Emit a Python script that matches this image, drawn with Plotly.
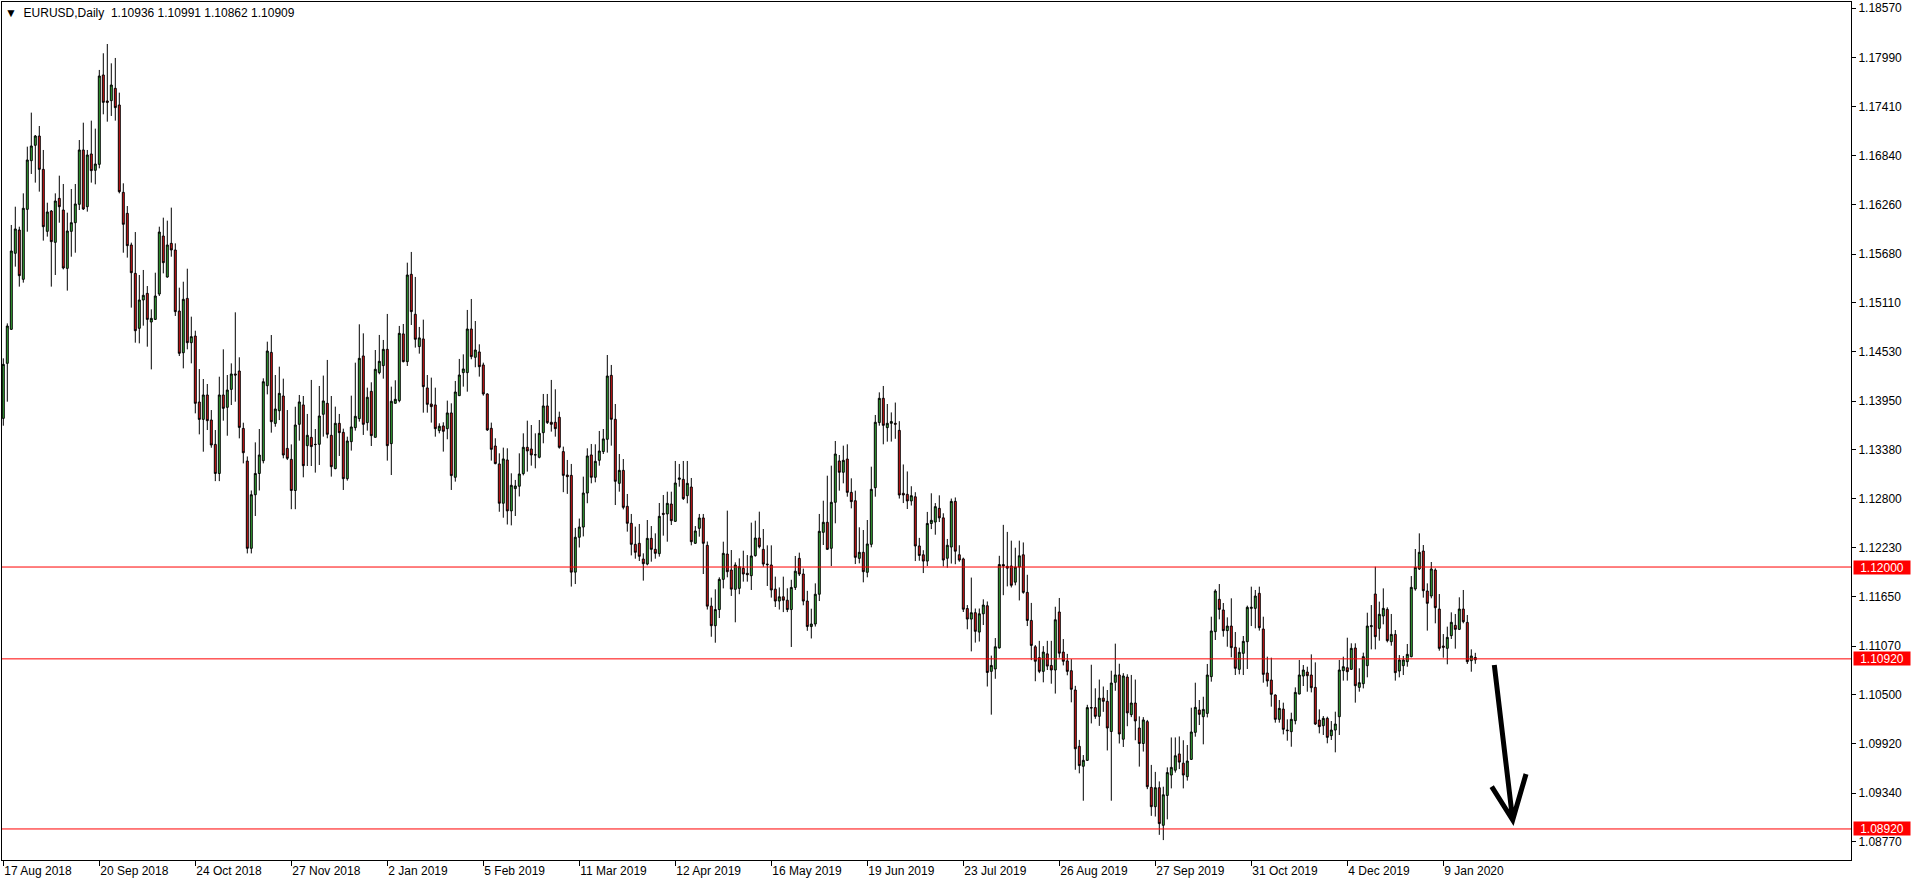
import plotly.graph_objects as go

# ---------------- data ----------------
date_labels = ["17 Aug 2018", "20 Sep 2018", "24 Oct 2018", "27 Nov 2018", "2 Jan 2019",
               "5 Feb 2019", "11 Mar 2019", "12 Apr 2019", "16 May 2019", "19 Jun 2019",
               "23 Jul 2019", "26 Aug 2019", "27 Sep 2019", "31 Oct 2019", "4 Dec 2019",
               "9 Jan 2020"]
bars_per_label = 24

price_ticks = [1.18570, 1.17990, 1.17410, 1.16840, 1.16260, 1.15680, 1.15110, 1.14530,
               1.13950, 1.13380, 1.12800, 1.12230, 1.11650, 1.11070, 1.10500, 1.09920,
               1.09340, 1.08770]

levels = [1.12000, 1.10920, 1.08920]

opens = [
    1.13748, 1.14395, 1.14795, 1.15689, 1.15963, 1.15383, 1.16206, 1.16778, 1.16959, 1.17068,
    1.16676, 1.15947, 1.16186, 1.15818, 1.16335, 1.16198, 1.15512, 1.15947, 1.16049, 1.16265,
    1.16904, 1.16237, 1.16857, 1.16665, 1.16735, 1.17786, 1.17480, 1.17484, 1.17629, 1.17433,
    1.16406, 1.16159, 1.15787, 1.15453, 1.14807, 1.15140, 1.15218, 1.14881, 1.14912, 1.15210,
    1.15892, 1.15410, 1.15806, 1.15728, 1.15010, 1.14520, 1.15159, 1.14638, 1.14716, 1.13940,
    1.13736, 1.14023, 1.13729, 1.13442, 1.13100, 1.14023, 1.13878, 1.14089, 1.14270, 1.14305,
    1.13630, 1.13246, 1.12220, 1.12850, 1.13100, 1.13250, 1.14132, 1.14524, 1.13689, 1.13838,
    1.14011, 1.13395, 1.13266, 1.12900, 1.13678, 1.13906, 1.13427, 1.13525, 1.13443, 1.13443,
    1.13796, 1.13925, 1.13549, 1.13157, 1.13690, 1.13584, 1.13039, 1.13474, 1.13639, 1.13745,
    1.14482, 1.13698, 1.14066, 1.13525, 1.14286, 1.14368, 1.14560, 1.13451, 1.13925, 1.13957,
    1.14741, 1.14415, 1.15442, 1.14972, 1.14592, 1.14682, 1.14106, 1.13917, 1.13906, 1.13604,
    1.13659, 1.13627, 1.13812, 1.13055, 1.14015, 1.14286, 1.14286, 1.14799, 1.14466, 1.14529,
    1.14376, 1.14035, 1.13631, 1.13423, 1.13212, 1.12750, 1.13259, 1.12660, 1.12922, 1.12950,
    1.13098, 1.13408, 1.13388, 1.13318, 1.13290, 1.13580, 1.13894, 1.13702, 1.13702, 1.13761,
    1.13357, 1.13082, 1.13078, 1.11940, 1.12350, 1.12470, 1.12870, 1.13318, 1.13055, 1.13255,
    1.13357, 1.13502, 1.14254, 1.13737, 1.12984, 1.13137, 1.12714, 1.12514, 1.12267, 1.12279,
    1.12094, 1.12035, 1.12337, 1.12208, 1.12157, 1.12631, 1.12624, 1.12741, 1.12537, 1.13031,
    1.13031, 1.12839, 1.12941, 1.12279, 1.12455, 1.12577, 1.12255, 1.11540, 1.11310, 1.11500,
    1.11855, 1.12153, 1.11965, 1.11738, 1.11749, 1.11985, 1.11926, 1.11898, 1.12134, 1.12341,
    1.12208, 1.12035, 1.12024, 1.11740, 1.11600, 1.11650, 1.11610, 1.11500, 1.11760, 1.12102,
    1.11918, 1.11600, 1.11300, 1.11330, 1.11680, 1.12408, 1.12526, 1.12220, 1.12761, 1.13247,
    1.13114, 1.13270, 1.12878, 1.12780, 1.12102, 1.12173, 1.11938, 1.12267, 1.12933, 1.13698,
    1.13984, 1.13639, 1.13690, 1.13690, 1.13607, 1.12867, 1.12855, 1.12777, 1.12826, 1.12248,
    1.12144, 1.12070, 1.12512, 1.12529, 1.12690, 1.12578, 1.12103, 1.12235, 1.12772, 1.12144,
    1.12095, 1.11512, 1.11388, 1.11463, 1.11235, 1.11450, 1.11545, 1.10773, 1.10801, 1.11049,
    1.12029, 1.12008, 1.12012, 1.11822, 1.12000, 1.12144, 1.11702, 1.11372, 1.11062, 1.10934,
    1.10773, 1.10979, 1.10843, 1.10789, 1.11471, 1.11000, 1.10896, 1.10781, 1.10554, 1.09892,
    1.09657, 1.09727, 1.10347, 1.10347, 1.10244, 1.10458, 1.10421, 1.10066, 1.10644, 1.10731,
    1.09975, 1.10706, 1.10264, 1.10401, 1.10107, 1.09925, 1.10182, 1.09409, 1.09182, 1.09405,
    1.08963, 1.09314, 1.09554, 1.09611, 1.09802, 1.09694, 1.09535, 1.09738, 1.10056, 1.10319,
    1.10240, 1.10279, 1.10711, 1.11240, 1.11620, 1.11495, 1.11252, 1.11306, 1.11056, 1.10797,
    1.10985, 1.11122, 1.11514, 1.11514, 1.11691, 1.11271, 1.10754, 1.10671, 1.10495, 1.10209,
    1.10330, 1.10083, 1.10064, 1.10193, 1.10507, 1.10718, 1.10765, 1.10730, 1.10585, 1.10201,
    1.10134, 1.10221, 1.10017, 1.10083, 1.10240, 1.10781, 1.10816, 1.10797, 1.11048, 1.10585,
    1.10628, 1.10840, 1.11299, 1.11683, 1.11279, 1.11424, 1.11502, 1.11122, 1.11208, 1.10777,
    1.10840, 1.10887, 1.10946, 1.11742, 1.11977, 1.12188, 1.11718, 1.11659, 1.11965, 1.11506,
    1.11071, 1.11044, 1.11193, 1.11314, 1.11267, 1.11506, 1.11349, 1.10899, 1.10936,
]

highs = [
    1.14454, 1.14865, 1.16022, 1.16237, 1.16002, 1.16394, 1.16943, 1.17343, 1.17080, 1.17186,
    1.16904, 1.16284, 1.16198, 1.16394, 1.16602, 1.16504, 1.16167, 1.16445, 1.16504, 1.17021,
    1.17225, 1.16904, 1.17249, 1.17155, 1.17845, 1.18041, 1.18150, 1.17923, 1.17986, 1.17578,
    1.16512, 1.16245, 1.15814, 1.15939, 1.15434, 1.15493, 1.15304, 1.15030, 1.15461, 1.16002,
    1.16108, 1.16073, 1.16226, 1.15806, 1.15285, 1.15355, 1.15508, 1.14944, 1.14779, 1.14328,
    1.14211, 1.14152, 1.13846, 1.13611, 1.14238, 1.14560, 1.14258, 1.14395, 1.14995, 1.14466,
    1.13697, 1.13300, 1.12900, 1.13466, 1.13623, 1.14219, 1.14650, 1.14728, 1.14258, 1.14356,
    1.14215, 1.13846, 1.13442, 1.13885, 1.14023, 1.14011, 1.13800, 1.14200, 1.13623, 1.14129,
    1.14251, 1.14435, 1.14011, 1.13886, 1.13800, 1.13627, 1.13533, 1.14015, 1.14403, 1.14854,
    1.14748, 1.14109, 1.14172, 1.14552, 1.14729, 1.14670, 1.14976, 1.14121, 1.14196, 1.14835,
    1.14858, 1.15579, 1.15705, 1.15411, 1.14823, 1.14909, 1.14258, 1.14227, 1.14109, 1.13690,
    1.13702, 1.13957, 1.13925, 1.14188, 1.14447, 1.14501, 1.15023, 1.15152, 1.14893, 1.14619,
    1.14403, 1.14043, 1.13698, 1.13514, 1.13337, 1.13404, 1.13396, 1.13102, 1.13024, 1.13337,
    1.13572, 1.13721, 1.13670, 1.13572, 1.13729, 1.14035, 1.14035, 1.14200, 1.14090, 1.13827,
    1.13416, 1.13259, 1.13212, 1.12460, 1.12570, 1.13063, 1.13396, 1.13447, 1.13443, 1.13600,
    1.13623, 1.14493, 1.14376, 1.13917, 1.13329, 1.13270, 1.12859, 1.12624, 1.12475, 1.12506,
    1.12161, 1.12553, 1.12482, 1.12396, 1.12753, 1.12847, 1.12886, 1.12886, 1.13247, 1.13212,
    1.13247, 1.13247, 1.13047, 1.12482, 1.12624, 1.12624, 1.12300, 1.11640, 1.11738, 1.11879,
    1.12298, 1.12663, 1.12200, 1.12055, 1.12102, 1.12192, 1.12141, 1.12522, 1.12545, 1.12651,
    1.12447, 1.12255, 1.12255, 1.11887, 1.11760, 1.11887, 1.11750, 1.11850, 1.12130, 1.12169,
    1.11981, 1.11720, 1.11510, 1.11808, 1.12624, 1.12780, 1.13074, 1.13192, 1.13482, 1.13317,
    1.13427, 1.13443, 1.13043, 1.12898, 1.12467, 1.12435, 1.12553, 1.13180, 1.13788, 1.14054,
    1.14129, 1.13917, 1.13818, 1.13934, 1.13715, 1.13206, 1.13124, 1.12950, 1.12880, 1.12343,
    1.12198, 1.12648, 1.12867, 1.12752, 1.12843, 1.12632, 1.12330, 1.12805, 1.12818, 1.12256,
    1.12110, 1.11553, 1.11876, 1.11512, 1.11512, 1.11620, 1.11595, 1.10958, 1.11165, 1.12132,
    1.12496, 1.12413, 1.12310, 1.12227, 1.12310, 1.12289, 1.11909, 1.11578, 1.11082, 1.11132,
    1.11070, 1.11132, 1.11132, 1.11533, 1.11636, 1.11153, 1.10979, 1.10917, 1.10603, 1.09967,
    1.09789, 1.10380, 1.10851, 1.10574, 1.10677, 1.10595, 1.10554, 1.10781, 1.11099, 1.10863,
    1.10752, 1.10739, 1.10731, 1.10677, 1.10244, 1.10235, 1.10202, 1.09673, 1.09591, 1.09479,
    1.09417, 1.09644, 1.09996, 1.09996, 1.10008, 1.09963, 1.09907, 1.10346, 1.10640, 1.10436,
    1.10475, 1.10860, 1.11416, 1.11738, 1.11800, 1.11577, 1.11408, 1.11632, 1.11236, 1.11052,
    1.11189, 1.11546, 1.11769, 1.11730, 1.11769, 1.11416, 1.10946, 1.10934, 1.10503, 1.10436,
    1.10405, 1.10209, 1.10287, 1.10585, 1.10907, 1.10848, 1.10828, 1.10973, 1.10879, 1.10326,
    1.10248, 1.10240, 1.10189, 1.10299, 1.10907, 1.10946, 1.11169, 1.11103, 1.11103, 1.10809,
    1.10993, 1.11463, 1.11553, 1.12004, 1.11593, 1.11749, 1.11526, 1.11448, 1.11259, 1.10965,
    1.10954, 1.11095, 1.11894, 1.12212, 1.12396, 1.12259, 1.11808, 1.12059, 1.11985, 1.11683,
    1.11212, 1.11299, 1.11467, 1.11448, 1.11644, 1.11730, 1.11436, 1.11032, 1.10991,
]

lows = [
    1.13662, 1.13944, 1.14787, 1.15532, 1.15297, 1.15344, 1.15943, 1.16622, 1.16520, 1.16414,
    1.15838, 1.15885, 1.15297, 1.15434, 1.16049, 1.15500, 1.15250, 1.15649, 1.15696, 1.16198,
    1.16198, 1.16179, 1.16520, 1.16500, 1.16688, 1.17323, 1.17237, 1.17304, 1.17249, 1.16394,
    1.15696, 1.15638, 1.15050, 1.14638, 1.14630, 1.14838, 1.14591, 1.14324, 1.14905, 1.15187,
    1.15453, 1.15402, 1.15649, 1.14952, 1.14481, 1.14336, 1.14560, 1.14395, 1.13807, 1.13560,
    1.13356, 1.13611, 1.13403, 1.13010, 1.13010, 1.13721, 1.13544, 1.13905, 1.13944, 1.13513,
    1.13219, 1.12160, 1.12160, 1.12600, 1.12900, 1.13219, 1.14030, 1.13580, 1.13650, 1.13728,
    1.13278, 1.13258, 1.12680, 1.12680, 1.13486, 1.13055, 1.13188, 1.13188, 1.13110, 1.13200,
    1.13533, 1.13514, 1.13063, 1.13149, 1.13306, 1.12906, 1.13016, 1.13369, 1.13604, 1.13710,
    1.13553, 1.13604, 1.13423, 1.13525, 1.14266, 1.14215, 1.13251, 1.13082, 1.13925, 1.13937,
    1.14407, 1.14364, 1.14846, 1.14580, 1.14509, 1.13815, 1.13815, 1.13698, 1.13533, 1.13572,
    1.13357, 1.13502, 1.12906, 1.13004, 1.14015, 1.14121, 1.14062, 1.14443, 1.14349, 1.14239,
    1.14015, 1.13600, 1.13251, 1.13208, 1.12650, 1.12580, 1.12500, 1.12490, 1.12600, 1.12830,
    1.13078, 1.13122, 1.13192, 1.13161, 1.13278, 1.13455, 1.13682, 1.13592, 1.13533, 1.13392,
    1.12880, 1.12860, 1.11770, 1.11800, 1.12230, 1.12360, 1.12750, 1.12984, 1.12996, 1.13192,
    1.13329, 1.13345, 1.13427, 1.12729, 1.12886, 1.12678, 1.12416, 1.12137, 1.12098, 1.12071,
    1.11840, 1.12020, 1.12063, 1.12098, 1.12122, 1.12369, 1.12298, 1.12494, 1.12533, 1.12945,
    1.12788, 1.12749, 1.12255, 1.12271, 1.12357, 1.11918, 1.11500, 1.11180, 1.11110, 1.11400,
    1.11749, 1.11879, 1.11660, 1.11350, 1.11680, 1.11828, 1.11828, 1.11730, 1.12122, 1.12220,
    1.12004, 1.11777, 1.11640, 1.11530, 1.11500, 1.11470, 1.11470, 1.11060, 1.11730, 1.11894,
    1.11550, 1.11250, 1.11160, 1.11300, 1.11600, 1.12259, 1.12200, 1.12012, 1.12514, 1.12898,
    1.12984, 1.12827, 1.12690, 1.12035, 1.12043, 1.11820, 1.11879, 1.12232, 1.12827, 1.13662,
    1.13443, 1.13474, 1.13475, 1.13508, 1.12805, 1.12752, 1.12682, 1.12723, 1.12070, 1.12074,
    1.11929, 1.12012, 1.12446, 1.12380, 1.12529, 1.12008, 1.11991, 1.12041, 1.12033, 1.12062,
    1.11471, 1.11268, 1.11008, 1.11111, 1.11124, 1.11318, 1.10595, 1.10264, 1.10686, 1.11041,
    1.11669, 1.11772, 1.11760, 1.11785, 1.11607, 1.11686, 1.11306, 1.10905, 1.10657, 1.10752,
    1.10644, 1.10789, 1.10628, 1.10512, 1.10934, 1.10843, 1.10727, 1.10409, 1.09616, 1.09574,
    1.09252, 1.09719, 1.10161, 1.10215, 1.10132, 1.10297, 1.09843, 1.09252, 1.10545, 1.09925,
    1.09884, 1.10128, 1.10235, 1.09963, 1.09653, 1.09830, 1.09388, 1.09074, 1.09066, 1.08851,
    1.08789, 1.09033, 1.09397, 1.09583, 1.09624, 1.09397, 1.09488, 1.09731, 1.10005, 1.10142,
    1.09915, 1.10232, 1.10652, 1.11142, 1.11385, 1.11181, 1.11063, 1.10938, 1.10730, 1.10738,
    1.10730, 1.10801, 1.11306, 1.11279, 1.11252, 1.10640, 1.10593, 1.10358, 1.10170, 1.10170,
    1.10032, 1.09958, 1.09887, 1.10150, 1.10503, 1.10601, 1.10534, 1.10526, 1.10142, 1.10044,
    1.10025, 1.09927, 1.09966, 1.09821, 1.10025, 1.10664, 1.10664, 1.10789, 1.10405, 1.10534,
    1.10573, 1.10703, 1.11032, 1.11032, 1.11134, 1.11326, 1.11114, 1.11075, 1.10664, 1.10703,
    1.10730, 1.10828, 1.10938, 1.11722, 1.11965, 1.11640, 1.11252, 1.11632, 1.11338, 1.11016,
    1.10934, 1.10856, 1.11154, 1.11040, 1.11259, 1.11338, 1.10860, 1.10769, 1.10862,
]

closes = [
    1.14383, 1.14834, 1.15716, 1.15975, 1.15426, 1.16218, 1.16786, 1.16951, 1.17068, 1.16676,
    1.16002, 1.16175, 1.15826, 1.16304, 1.16237, 1.15516, 1.15951, 1.16049, 1.16269, 1.16904,
    1.16210, 1.16845, 1.16661, 1.16739, 1.17774, 1.17464, 1.17464, 1.17668, 1.17402, 1.16414,
    1.16030, 1.15779, 1.15461, 1.14779, 1.15140, 1.15195, 1.14912, 1.14924, 1.15187, 1.15939,
    1.15579, 1.15787, 1.15728, 1.15003, 1.14513, 1.15148, 1.14638, 1.14709, 1.13925, 1.13736,
    1.14023, 1.13721, 1.13435, 1.13100, 1.14023, 1.13866, 1.14081, 1.14270, 1.14258, 1.13642,
    1.13344, 1.12220, 1.12850, 1.13100, 1.13317, 1.14179, 1.14540, 1.13709, 1.13858, 1.14042,
    1.13317, 1.13278, 1.12900, 1.13670, 1.13941, 1.13192, 1.13549, 1.13416, 1.13440, 1.13776,
    1.13953, 1.13561, 1.13180, 1.13690, 1.13580, 1.13039, 1.13482, 1.13647, 1.13772, 1.14454,
    1.13678, 1.13996, 1.13545, 1.14325, 1.14419, 1.14560, 1.13427, 1.13949, 1.13972, 1.14748,
    1.14415, 1.15434, 1.15003, 1.14678, 1.14694, 1.14121, 1.13913, 1.13886, 1.13627, 1.13655,
    1.13596, 1.13812, 1.13075, 1.14058, 1.14258, 1.14329, 1.14799, 1.14474, 1.14552, 1.14356,
    1.14035, 1.13612, 1.13384, 1.13216, 1.12750, 1.13271, 1.12660, 1.12961, 1.12953, 1.13094,
    1.13408, 1.13365, 1.13318, 1.13320, 1.13572, 1.13894, 1.13698, 1.13678, 1.13627, 1.13408,
    1.13078, 1.13063, 1.11940, 1.12350, 1.12470, 1.12870, 1.13306, 1.13055, 1.13243, 1.13364,
    1.13506, 1.14246, 1.13737, 1.13008, 1.13137, 1.12702, 1.12514, 1.12267, 1.12173, 1.12126,
    1.12039, 1.12337, 1.12208, 1.12161, 1.12596, 1.12620, 1.12749, 1.12545, 1.12988, 1.13047,
    1.12804, 1.12984, 1.12298, 1.12424, 1.12577, 1.12279, 1.11540, 1.11310, 1.11500, 1.11855,
    1.12161, 1.11945, 1.11740, 1.12024, 1.12004, 1.11918, 1.11910, 1.12130, 1.12341, 1.12239,
    1.12035, 1.12028, 1.11730, 1.11600, 1.11650, 1.11610, 1.11500, 1.11760, 1.11951, 1.11918,
    1.11600, 1.11300, 1.11330, 1.11680, 1.12420, 1.12526, 1.12208, 1.12761, 1.13329, 1.13114,
    1.13255, 1.12878, 1.12769, 1.12114, 1.12173, 1.11945, 1.12271, 1.12914, 1.13702, 1.13984,
    1.13666, 1.13690, 1.13710, 1.13680, 1.12847, 1.12847, 1.12777, 1.12839, 1.12248, 1.12136,
    1.12070, 1.12512, 1.12549, 1.12710, 1.12578, 1.12082, 1.12256, 1.12772, 1.12186, 1.12082,
    1.11504, 1.11388, 1.11463, 1.11244, 1.11450, 1.11553, 1.10760, 1.10843, 1.11062, 1.12029,
    1.12012, 1.11987, 1.11785, 1.12000, 1.12132, 1.11702, 1.11372, 1.11078, 1.10892, 1.10773,
    1.11000, 1.10835, 1.10789, 1.11380, 1.10987, 1.10892, 1.10773, 1.10562, 1.09863, 1.09665,
    1.09727, 1.10347, 1.10343, 1.10244, 1.10458, 1.10421, 1.10107, 1.10636, 1.10731, 1.10037,
    1.10719, 1.10285, 1.10401, 1.10190, 1.09925, 1.10202, 1.09417, 1.09182, 1.09405, 1.08983,
    1.09322, 1.09583, 1.09644, 1.09781, 1.09706, 1.09554, 1.09719, 1.10060, 1.10350, 1.10268,
    1.10326, 1.10730, 1.11248, 1.11718, 1.11502, 1.11252, 1.11306, 1.11052, 1.10809, 1.10997,
    1.11126, 1.11526, 1.11526, 1.11659, 1.11287, 1.10738, 1.10660, 1.10503, 1.10209, 1.10338,
    1.10091, 1.10076, 1.10209, 1.10526, 1.10730, 1.10789, 1.10722, 1.10581, 1.10154, 1.10123,
    1.10221, 1.09997, 1.10083, 1.10154, 1.10789, 1.10828, 1.10769, 1.11044, 1.10605, 1.10640,
    1.10946, 1.11306, 1.11310, 1.11181, 1.11444, 1.11514, 1.11134, 1.11208, 1.10758, 1.10907,
    1.10907, 1.10973, 1.11761, 1.11996, 1.12173, 1.11722, 1.11573, 1.11977, 1.11522, 1.11044,
    1.11056, 1.11173, 1.11350, 1.11267, 1.11506, 1.11357, 1.10887, 1.10954, 1.10909,
]

# hand-drawn arrow (bar index, price)
arrow_tail = (372.75, 1.10848)
arrow_tip = (377.35, 1.09025)
arrow_wing_left = (372.10, 1.09417)
arrow_wing_right = (380.68, 1.09566)

# ---------------- figure ----------------
FONT = "Liberation Sans, Arial, sans-serif"
GREEN = "#38B038"
RED = "#E01818"

n = len(opens)
bars = list(range(n))

fig = go.Figure(go.Candlestick(
    x=bars, open=opens, high=highs, low=lows, close=closes,
    increasing=dict(fillcolor=GREEN, line=dict(color="black", width=1)),
    decreasing=dict(fillcolor=RED, line=dict(color="black", width=1)),
    whiskerwidth=0, hoverinfo="skip", showlegend=False,
))

tickvals = [i * bars_per_label for i in range(len(date_labels))]

fig.update_layout(
    width=1916, height=884,
    margin=dict(l=2, r=65, t=2, b=24, pad=0, autoexpand=False),
    paper_bgcolor="white", plot_bgcolor="white",
    boxgap=0.3,
    font=dict(family=FONT, size=12, color="black"),
    xaxis=dict(
        range=[-0.325, 461.925], tickmode="array", tickvals=tickvals, ticktext=date_labels,
        ticks="outside", ticklen=5, tickcolor="black", tickwidth=1,
        ticklabelposition="outside right",
        showline=True, linecolor="black", linewidth=1, mirror=True,
        showgrid=False, zeroline=False, rangeslider=dict(visible=False),
        automargin=False,
        tickfont=dict(family=FONT, size=12, color="black"),
    ),
    yaxis=dict(
        side="right", range=[1.08555, 1.18644], tickmode="array", tickvals=price_ticks,
        ticktext=[f"{v:.5f}" for v in price_ticks],
        ticks="outside", ticklen=4, tickcolor="black", tickwidth=1,
        showline=True, linecolor="black", linewidth=1, mirror=True,
        showgrid=False, zeroline=False, automargin=False,
        tickfont=dict(family=FONT, size=12, color="black"),
    ),
)

shapes = []
annotations = []
for lv in levels:
    shapes.append(dict(type="line", xref="paper", x0=0, x1=1, yref="y", y0=lv, y1=lv,
                       line=dict(color="#FF0000", width=1), layer="above"))
    annotations.append(dict(xref="paper", x=1, xanchor="left", xshift=2, yref="y", y=lv,
                            yanchor="middle", text=f"{lv:.5f}", showarrow=False,
                            font=dict(family=FONT, size=12, color="white"),
                            bgcolor="#FF0000", borderpad=0, width=56, height=13,
                            align="center"))

path = (f"M {arrow_tail[0]},{arrow_tail[1]} L {arrow_tip[0]},{arrow_tip[1]} "
        f"M {arrow_wing_left[0]},{arrow_wing_left[1]} L {arrow_tip[0]},{arrow_tip[1]} "
        f"L {arrow_wing_right[0]},{arrow_wing_right[1]}")
shapes.append(dict(type="path", xref="x", yref="y", path=path,
                   line=dict(color="black", width=5)))

annotations.append(dict(xref="paper", yref="paper", x=0, y=1, xanchor="left", yanchor="top",
                        xshift=1, yshift=-2, showarrow=False,
                        text="\u25BC  EURUSD,Daily  1.10936 1.10991 1.10862 1.10909",
                        font=dict(family=FONT, size=12, color="black"), align="left"))

fig.update_layout(shapes=shapes, annotations=annotations)
fig.write_html("out.html", config={"displayModeBar": False},
               post_script="document.body.style.margin='0';")
